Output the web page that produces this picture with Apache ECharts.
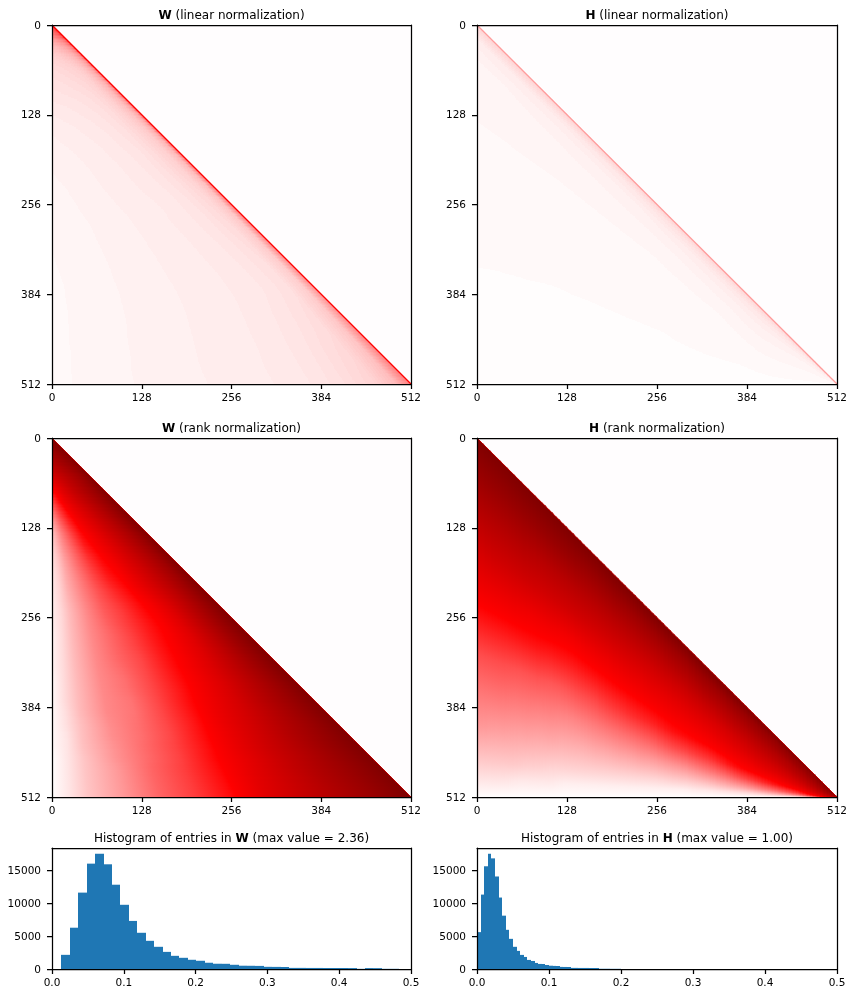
<!DOCTYPE html>
<html>
<head>
<meta charset="UTF-8">
<title>W / H</title>
<script src="https://cdn.jsdelivr.net/npm/echarts@6/dist/echarts.min.js"></script>
<style>html,body{margin:0;background:#fff}</style>
</head>
<body>
<div id="main" style="width:854px;height:996px;"></div>
<script>
// tick labels
var histYTicks = [0, 5000, 10000, 15000];

// band centres, one band per 16 units
var bandCentres = [8,24,40,56,72,88,104,120,136,152,168,184,200,216,232,248,264,280,296,312,328,344,360,376,392,408,424,440,456,472,488,504];

// where the samples of a band sit, as a share of its length inside the triangle
var wRankStops = [0,.05,.1,.2,.3,.4,.5,.6,.7,.8,.9,1];
var hRankStops = [0,.1,.2,.3,.4,.5,.6,.7,.8,.9,.95,1];
var wLinearStops = [0,.1,.2,.3,.4,.5,.6,.7,.8,.9,.96,1];
var hLinearStops = [0,.04,.1,.2,.3,.4,.5,.6,.7,.8,.9,1];

// values in percent of the colour range
// W: one list per row, left edge to diagonal
var wLinear = [
[30,31,32,33,34,35,36,38,40,42,45,50],
[15,15.5,16,17,18,19,20,22,25,29,35,45],
[9.5,10,10.5,11,12,13,14,15.5,18,22,29,40],
[7,7.3,7.7,8,8.5,9,10,11.5,14,18,25,36],
[6,6.2,6.5,6.8,7.2,7.7,8.3,9.5,12,16,22,33],
[5.2,5.4,5.6,5.9,6.2,6.6,7.2,8.3,10.5,14,20,31],
[4.5,4.7,4.9,5.1,5.4,5.8,6.4,7.4,9.5,13,19,30],
[3.8,4,4.2,4.5,4.8,5.2,5.8,6.7,8.7,12,17,30],
[3.2,3.5,3.7,4,4.3,4.7,5.3,6.2,8,11,16,29],
[2.8,3.1,3.3,3.6,3.9,4.3,4.9,5.7,7.4,10,15,28],
[2.5,2.8,3,3.3,3.6,4,4.6,5.3,6.9,9.5,14,28],
[2.2,2.5,2.8,3.1,3.4,3.8,4.3,5,6.5,9,13.5,27],
[2,2.3,2.6,2.9,3.2,3.6,4.1,4.8,6.2,8.6,13,26],
[1.9,2.2,2.5,2.8,3.1,3.5,3.9,4.6,5.9,8.2,12.5,26],
[1.7,2,2.3,2.7,3,3.4,3.8,4.4,5.6,7.8,12,25],
[1.5,1.9,2.2,2.6,2.9,3.3,3.6,4.2,5.3,7.4,11.5,25],
[1.4,1.8,2.1,2.5,2.8,3.2,3.5,4.1,5.1,7,11,24],
[1.3,1.7,2,2.4,2.7,3.1,3.5,4,4.9,6.8,10.5,24],
[1.25,1.65,1.95,2.35,2.65,3,3.4,3.9,4.8,6.5,10.2,23],
[1.2,1.55,1.9,2.3,2.6,3,3.35,3.8,4.6,6.2,10,23],
[1.15,1.5,1.85,2.25,2.55,2.95,3.3,3.75,4.5,6,9.8,22],
[1.1,1.45,1.8,2.2,2.55,2.9,3.25,3.7,4.4,5.8,9.6,22],
[1.05,1.4,1.78,2.2,2.5,2.9,3.2,3.65,4.35,5.7,9.5,22],
[1,1.35,1.76,2.15,2.5,2.85,3.2,3.65,4.3,5.6,9.5,21],
[1,1.35,1.75,2.15,2.5,2.85,3.2,3.65,4.4,5.9,10,21],
[.95,1.35,1.75,2.15,2.5,2.85,3.25,3.7,4.6,6.2,10.5,22],
[.95,1.35,1.75,2.15,2.5,2.9,3.25,3.75,4.7,6.4,10.8,22],
[.9,1.4,1.8,2.15,2.55,2.9,3.3,3.8,4.9,6.6,11,23],
[.9,1.4,1.8,2.2,2.55,2.95,3.3,3.85,5.1,7,11.5,24],
[.85,1.4,1.8,2.2,2.6,2.95,3.35,3.9,5.2,7.3,12,24],
[.85,1.45,1.85,2.2,2.6,3,3.4,3.95,5.3,7.6,12.5,25],
[.8,1.45,1.85,2.2,2.6,3,3.4,4,5.4,8,13,25]
];
var wRank = [
[96,96,97,97,97,98,98,98,99,99,99,100],
[86,87,88,89,90,91,92,94,95,96,98,100],
[77,78,79,81,83,85,87,89,91,93,96,100],
[66,67,69,72,75,78,81,84,87,91,95,100],
[52,55,58,64,69,74,78,82,86,90,95,100],
[38,43,48,57,63,69,74,79,84,89,94,100],
[27,33,39,49,57,63,69,75,81,87,93,100],
[17,24,31,43,52,59,65,72,78,85,92,100],
[11,18,25,37,48,55,62,69,76,83,91,100],
[8,15,22,33,45,52,59,66,74,82,90,100],
[6,12,19,30,41,49,56,64,72,80,89,100],
[5,10,17,28,38,47,53,62,70,79,88,100],
[4,9,16,26,36,45,51,60,69,78,88,100],
[4,8,15,25,34,42,49,58,67,77,88,100],
[3,8,14,24,33,40,47,55,65,76,88,100],
[3,7,13,23,32,38,46,53,63,76,88,100],
[3,7,13,23,31,38,45,52,62,75,88,100],
[2,7,13,23,30,37,45,52,62,75,88,100],
[2,7,13,23,30,37,45,53,62,75,88,100],
[2,7,13,23,30,36,45,53,63,75,88,100],
[2,7,13,23,29,36,45,54,64,76,88,100],
[1,7,13,23,28,36,45,54,64,76,88,100],
[1,7,13,23,28,36,45,55,65,77,88,100],
[1,7,13,23,27,36,46,56,66,78,89,100],
[1,6,13,23,27,36,46,57,67,78,89,100],
[1,6,12,22,28,36,46,58,68,79,89,100],
[1,5,12,22,28,36,47,58,69,80,90,100],
[1,5,12,21,29,37,47,59,70,80,90,100],
[0,5,11,21,29,37,48,59,70,80,90,100],
[0,5,11,20,30,38,48,60,71,81,90,100],
[0,5,11,20,30,38,48,61,71,81,90,100],
[0,5,11,20,30,38,48,62,72,81,90,100]
];
// H: one list per column, diagonal down to the bottom edge
var hLinear = [
[8,3.3,1.85,1.41,1.07,.87,.67,.48,.36,.31,.25,.2],
[8,3.4,1.9,1.41,1.06,.87,.67,.47,.35,.31,.25,.2],
[8,3.5,1.95,1.41,1.06,.86,.66,.47,.35,.31,.25,.2],
[8,3.5,2,1.42,1.06,.86,.66,.46,.35,.3,.25,.2],
[8,3.6,2.05,1.42,1.06,.86,.66,.46,.35,.3,.25,.2],
[8,3.6,2.1,1.43,1.05,.85,.65,.46,.34,.3,.25,.2],
[8,3.7,2.15,1.43,1.05,.85,.65,.45,.34,.3,.25,.2],
[8,3.7,2.2,1.43,1.05,.85,.65,.45,.34,.3,.25,.2],
[8,3.8,2.3,1.45,1.06,.86,.66,.46,.35,.3,.25,.2],
[8,3.9,2.35,1.47,1.07,.87,.67,.46,.35,.31,.25,.2],
[8,4,2.4,1.5,1.08,.88,.68,.47,.35,.31,.26,.2],
[8,4.1,2.5,1.55,1.09,.9,.7,.48,.36,.31,.26,.2],
[8,4.2,2.55,1.6,1.1,.91,.71,.49,.36,.32,.26,.2],
[8,4.4,2.65,1.65,1.12,.93,.73,.51,.37,.32,.26,.2],
[8,4.5,2.75,1.7,1.14,.95,.74,.53,.37,.32,.27,.2],
[8,4.7,2.85,1.75,1.16,.97,.76,.55,.38,.33,.27,.2],
[8,4.9,3,1.85,1.2,1,.78,.58,.39,.33,.27,.2],
[8,5,3.1,1.95,1.25,1,.8,.6,.41,.34,.27,.2],
[8,5.2,3.2,2.05,1.3,1.03,.82,.62,.43,.34,.28,.2],
[8,5.3,3.3,2.2,1.4,1.06,.84,.64,.45,.35,.28,.2],
[8,5.5,3.5,2.3,1.55,1.1,.86,.66,.48,.36,.29,.2],
[8,5.6,3.7,2.45,1.7,1.17,.9,.7,.5,.37,.3,.2],
[8,5.8,3.8,2.6,1.85,1.35,1,.76,.54,.38,.3,.2],
[8,6,4,2.8,2.1,1.6,1.2,.9,.62,.39,.3,.2],
[8,6.1,4.2,3,2.3,1.8,1.35,1.05,.72,.43,.31,.2],
[8,6.3,4.4,3.1,2.4,1.9,1.5,1.17,.82,.5,.33,.22],
[8,6.4,4.5,3.1,2.4,1.9,1.5,1.2,.9,.55,.37,.23],
[8,6.4,4.5,3.1,2.3,1.8,1.45,1.18,.9,.6,.39,.24],
[8,6.5,4.5,3,2.2,1.7,1.4,1.17,.9,.6,.39,.25],
[8,6.5,4.4,3,2.1,1.7,1.35,1.1,.85,.58,.38,.25],
[8,7,4.6,3.2,2.3,1.8,1.45,1.18,.9,.65,.42,.28],
[8,7.5,5,3.5,2.5,2,1.6,1.3,1,.8,.6,.3]
];
var hRank = [
[100,90,79,68,57,46,35,27,20,10,5,0],
[100,90,79,69,57,46,35,27,19,10,5,0],
[100,90,79,69,57,46,35,27,19,10,5,0],
[100,90,79,69,57,46,34,26,18,10,4,0],
[100,90,79,69,56,46,34,26,18,9,4,0],
[100,90,78,68,56,46,34,25,17,9,4,0],
[100,90,78,68,56,45,33,25,17,8,4,0],
[100,90,78,68,55,45,33,24,16,8,3,0],
[100,90,78,68,55,45,34,24,16,8,3,0],
[100,89,78,68,56,46,35,25,16,8,3,0],
[100,89,78,68,57,47,36,26,17,8,3,0],
[100,89,78,68,57,48,38,27,17,8,3,0],
[100,89,78,68,58,49,39,28,18,8,3,0],
[100,88,78,68,59,50,41,29,18,8,3,0],
[100,88,78,68,59,51,42,30,19,8,3,0],
[100,88,78,68,60,52,43,31,19,8,3,0],
[100,88,78,69,60,53,45,33,20,8,3,0],
[100,88,79,69,61,54,47,35,21,9,3,0],
[100,88,79,70,62,55,48,36,22,9,3,0],
[100,89,80,71,63,56,49,38,24,10,4,0],
[100,89,81,72,64,57,50,39,26,11,4,0],
[100,89,81,73,65,59,52,42,28,13,5,0],
[100,90,82,75,67,61,54,46,31,15,6,0],
[100,90,83,76,69,63,56,49,35,17,7,0],
[100,90,84,77,71,65,58,51,38,20,9,0],
[100,91,85,79,73,67,61,53,42,24,12,0],
[100,91,86,80,75,69,63,55,46,28,16,1],
[100,92,87,81,77,71,65,58,49,33,20,2],
[100,92,88,83,79,74,68,62,53,38,26,4],
[100,93,90,86,82,78,74,68,61,50,38,15],
[100,95,92,89,86,83,79,75,70,63,55,40],
[100,97,95,93,91,89,87,84,81,77,74,68]
];
var diagonal = [[0, 0], [512, 512]];

// histogram bins
var wHistStart = 0.013, wHistWidth = 0.01175;
var wHist = [2150,6270,11600,16000,17500,15900,12800,9750,7300,5500,4280,3370,2600,2000,1700,1400,1250,950,800,790,640,500,490,470,330,320,300,170,170,160,160,150,150,150,140,30,140,130,30,30];
var hHistStart = 0, hHistWidth = 0.005;
var hHist = [5600,11300,15600,17500,16800,14050,10850,8100,5950,4580,3370,2750,2140,1830,1380,1220,920,770,760,610,500,470,460,320,310,300,170,170,160,160,160,150,150,150,40,40,40,30,30,30];

var FONT = 'DejaVu Sans';
var INK = '#000';
var BG = '#fffdfe';
var SUB = 8;      // strips drawn per band, shading between the rows that were read
var LEVELS = 128; // the colour map has this many steps from white to dark red

// seismic, upper half: white -> red -> dark red
function cmap(v) {
	var t = v / 100;
	if (t <= 0.5) {
		var g = Math.round(253 * (1 - 2 * t));
		return 'rgb(255,' + g + ',' + g + ')';
	}
	return 'rgb(' + Math.round(255 - (t - 0.5) * 2 * 127) + ',0,0)';
}

// the map has a corner at pure red (v = 50), keep a stop there or the ridge streaks
function smoothStops(stops, vals) {
	var out = [{offset: stops[0], color: cmap(vals[0])}];
	for (var k = 1; k < stops.length; k++) {
		var a = vals[k - 1], b = vals[k];
		if ((a - 50) * (b - 50) < 0) {
			out.push({offset: stops[k - 1] + (stops[k] - stops[k - 1]) * (50 - a) / (b - a), color: cmap(50)});
		}
		out.push({offset: stops[k], color: cmap(b)});
	}
	return out;
}

// same thing but in the flat steps of the colour map, that is what draws the contours
function steppedStops(stops, vals) {
	var out = [], step = 100 / LEVELS;
	function lv(v) { return Math.round(v / step); }
	out.push({offset: stops[0], color: cmap(lv(vals[0]) * step)});
	for (var k = 1; k < stops.length; k++) {
		var a = vals[k - 1], b = vals[k], la = lv(a), lb = lv(b), dir = lb > la ? 1 : -1;
		for (var l = la; l !== lb; l += dir) {
			var edge = (l + dir / 2) * step;
			var off = stops[k - 1] + (stops[k] - stops[k - 1]) * (edge - a) / (b - a);
			out.push({offset: off, color: cmap(l * step)});
			out.push({offset: off, color: cmap((l + dir) * step)});
		}
	}
	out.push({offset: stops[stops.length - 1], color: cmap(lv(vals[vals.length - 1]) * step)});
	return out;
}

var titles = [], grids = [], xAxes = [], yAxes = [], series = [];

function addPanel(left, top, w, h, titleText, opt) {
	var idx = grids.length;
	grids.push({left: left, top: top, width: w, height: h, show: true, borderWidth: 0, backgroundColor: opt.bg || '#fff'});
	titles.push({
		text: titleText, left: left + w / 2, top: top - 15, textAlign: 'center', padding: 0,
		textStyle: {fontFamily: FONT, fontSize: 12, fontWeight: 'normal', color: INK,
			rich: {b: {fontFamily: FONT, fontSize: 12, fontWeight: 'bold', color: INK}}}
	});
	var line = {show: true, onZero: false, lineStyle: {color: INK, width: 1.25}};
	var tick = {show: true, length: 5, lineStyle: {color: INK, width: 1.25}};
	var label = {fontFamily: FONT, fontSize: 10.5, color: INK};
	xAxes.push({
		gridIndex: idx, type: 'value', position: 'bottom', min: opt.xMin, max: opt.xMax, interval: opt.xInterval,
		z: 5, axisLine: line, axisTick: tick, splitLine: {show: false},
		axisLabel: Object.assign({}, label, {margin: 9, formatter: opt.xFormat})
	});
	var yTick = Object.assign({}, tick), yLabel = Object.assign({}, label, {
		margin: 11,
		formatter: function (v) { return '{t|' + v + '}'; },
		rich: {t: {fontFamily: FONT, fontSize: 10.5, color: INK, padding: [2, 0, 0, 0]}}
	});
	if (opt.yValues) {
		yTick.customValues = opt.yValues;
		yLabel.customValues = opt.yValues;
	}
	yAxes.push({
		gridIndex: idx, type: 'value', position: 'left', min: opt.yMin, max: opt.yMax, interval: opt.yInterval,
		inverse: !!opt.yInverse, z: 5, axisLine: line, axisTick: yTick, splitLine: {show: false}, axisLabel: yLabel
	});
	// top and right edges of the frame
	xAxes.push({gridIndex: idx, type: 'value', position: 'top', min: opt.xMin, max: opt.xMax, z: 5, axisLine: line,
		axisTick: {show: false}, axisLabel: {show: false}, splitLine: {show: false}});
	yAxes.push({gridIndex: idx, type: 'value', position: 'right', min: opt.yMin, max: opt.yMax, inverse: !!opt.yInverse, z: 5, axisLine: line,
		axisTick: {show: false}, axisLabel: {show: false}, splitLine: {show: false}});
	return idx * 2;
}

// one band of the triangle, as thin trapezoids with a gradient running along them.
// each strip is shaded from the read values of this band and its two neighbours
// (quadratic weights, only at draw time) so neither steps nor kinks show.
// strip edges are snapped to whole pixels, thin antialiased edges left streaks
function bandSeries(axisIdx, matrix, stops, byColumn, makeStops) {
	series.push({
		type: 'custom', xAxisIndex: axisIdx, yAxisIndex: axisIdx, clip: true, silent: true,
		data: matrix.map(function (vals, i) { return [bandCentres[i]].concat(vals); }),
		renderItem: function (params, api) {
			var i = params.dataIndex, c = api.value(0), h = 16 / SUB, children = [];
			var prev = matrix[i - 1] || matrix[i], next = matrix[i + 1] || matrix[i];
			for (var j = 0; j < SUB; j++) {
				var a = c - 8 + j * h, b = a + h, p = a + h / 2;
				var t = (p - c) / 16;
				var wp = (0.5 - t) * (0.5 - t) / 2, wn = (0.5 + t) * (0.5 + t) / 2, wc = 0.75 - t * t;
				var vals = matrix[i].map(function (v, k) { return v * wc + prev[k] * wp + next[k] * wn; });
				var pa = api.coord([a, a]), pb = api.coord([b, b]), pts, p0, p1;
				if (byColumn) {
					var xa = Math.round(pa[0]), xb = Math.round(pb[0]), bottom = api.coord([a, 512])[1];
					pts = [[xa, pa[1]], [xb, pb[1]], [xb + 1, pb[1] + 1], [xb + 1, bottom], [xa, bottom]];
					p0 = api.coord([p, p]); p1 = api.coord([p, 512]);
				} else {
					var ya = Math.round(pa[1]), yb = Math.round(pb[1]), left = api.coord([0, a])[0];
					pts = [[left, ya], [pa[0], ya], [pb[0], yb], [pb[0], yb + 1], [left, yb + 1]];
					p0 = api.coord([0, p]); p1 = api.coord([p, p]);
				}
				children.push({
					type: 'polygon',
					shape: {points: pts},
					style: {fill: new echarts.graphic.LinearGradient(p0[0], p0[1], p1[0], p1[1], makeStops(stops, vals), true)}
				});
			}
			return {type: 'group', children: children};
		}
	});
}

function diagSeries(axisIdx, color, width) {
	series.push({
		type: 'line', xAxisIndex: axisIdx, yAxisIndex: axisIdx, data: diagonal, symbol: 'none', silent: true,
		z: 3, lineStyle: {color: color, width: width}
	});
}

function histSeries(axisIdx, counts, start, width) {
	series.push({
		type: 'custom', xAxisIndex: axisIdx, yAxisIndex: axisIdx, clip: true, silent: true,
		data: counts.map(function (n, i) { return [start + i * width, n]; }),
		renderItem: function (params, api) {
			var p0 = api.coord([api.value(0), 0]);
			var p1 = api.coord([api.value(0) + width, api.value(1)]);
			var x0 = Math.round(p0[0]), x1 = Math.round(p1[0]);
			return {
				type: 'rect',
				shape: {x: x0, y: p1[1], width: x1 - x0, height: p0[1] - p1[1]},
				style: {fill: '#1f77b4'}
			};
		}
	});
}

var matrixOpt = {bg: BG, xMin: 0, xMax: 512, xInterval: 128, yMin: 0, yMax: 512, yInterval: 128, yInverse: true};
var histOpt = {xMin: 0, xMax: 0.5, xInterval: 0.1, yMin: 0, yMax: 18375, yValues: histYTicks,
	xFormat: function (v) { return v.toFixed(1); }};

var a;
a = addPanel(52, 25, 359, 359, '{b|W} (linear normalization)', matrixOpt);
bandSeries(a, wLinear, wLinearStops, false, steppedStops); diagSeries(a, '#ff0000', 1.2);
a = addPanel(477, 25, 360, 359, '{b|H} (linear normalization)', matrixOpt);
bandSeries(a, hLinear, hLinearStops, true, steppedStops); diagSeries(a, '#ff9c9c', 1.2);
a = addPanel(52, 438, 359, 359, '{b|W} (rank normalization)', matrixOpt);
bandSeries(a, wRank, wRankStops, false, smoothStops); diagSeries(a, '#c00000', 1);
a = addPanel(477, 438, 360, 359, '{b|H} (rank normalization)', matrixOpt);
bandSeries(a, hRank, hRankStops, true, smoothStops); diagSeries(a, '#c00000', 1);
a = addPanel(52, 848, 359, 121, 'Histogram of entries in {b|W} (max value = 2.36)', histOpt);
histSeries(a, wHist, wHistStart, wHistWidth);
a = addPanel(477, 848, 360, 121, 'Histogram of entries in {b|H} (max value = 1.00)', histOpt);
histSeries(a, hHist, hHistStart, hHistWidth);

var myChart = echarts.init(document.getElementById('main'));
myChart.setOption({
	animation: false,
	backgroundColor: '#fff',
	title: titles,
	grid: grids,
	xAxis: xAxes,
	yAxis: yAxes,
	series: series
});
</script>
</body>
</html>
